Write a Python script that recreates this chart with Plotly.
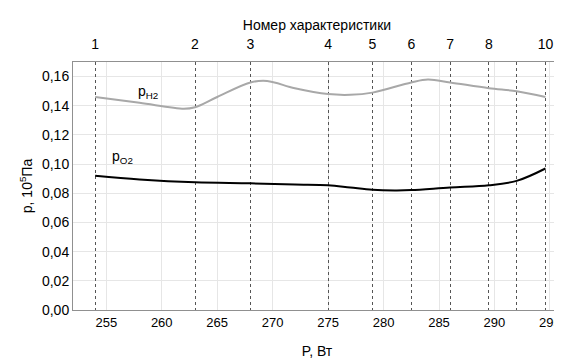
import plotly.graph_objects as go

# Characteristic numbers (top axis) and their power values
char_power = [254, 263, 268, 275, 279, 282.5, 286, 289.5, 292, 294.6]
char_labels = ["1", "2", "3", "4", "5", "6", "7", "8", "", "10"]

# Hydrogen partial pressure curve (P, W -> p, 1e5 Pa)
h2_power = [254, 258, 262, 263, 265, 268, 269.5, 272, 275, 277, 279, 282.5, 284, 286, 289.5, 292, 294.6]
h2_press = [0.146, 0.142, 0.138, 0.139, 0.146, 0.156, 0.157, 0.152, 0.148, 0.1475, 0.149, 0.156, 0.158, 0.156, 0.152, 0.150, 0.146]

# Oxygen partial pressure curve
o2_power = [254, 258, 263, 268, 272, 275, 277, 279, 281, 282.5, 286, 289.5, 292, 294.6]
o2_press = [0.092, 0.0895, 0.0875, 0.0868, 0.086, 0.0855, 0.084, 0.0825, 0.082, 0.0822, 0.084, 0.0855, 0.0885, 0.097]

x_ticks = [255, 260, 265, 270, 275, 280, 285, 290, 295]
y_ticks = [0.00, 0.02, 0.04, 0.06, 0.08, 0.10, 0.12, 0.14, 0.16]

FONT = "Liberation Sans"
FS = 14

fig = go.Figure()
fig.add_trace(go.Scatter(x=h2_power, y=h2_press, mode="lines", line=dict(color="#a8a8a8", width=2, shape="spline"), showlegend=False))
fig.add_trace(go.Scatter(x=o2_power, y=o2_press, mode="lines", line=dict(color="#000000", width=2, shape="spline"), showlegend=False))
# invisible trace to activate top axis
fig.add_trace(go.Scatter(x=[char_power[0]], y=[0], xaxis="x2", mode="markers", marker=dict(opacity=0), showlegend=False, hoverinfo="skip"))

fig.add_annotation(x=258.8, y=0.1495, text="p<sub>H2</sub>", showarrow=False, font=dict(family=FONT, size=FS, color="#000"))
fig.add_annotation(x=256.5, y=0.105, text="p<sub>O2</sub>", showarrow=False, font=dict(family=FONT, size=FS, color="#000"))

fig.update_layout(
    width=554, height=355,
    margin=dict(l=65, r=1, t=54, b=53, autoexpand=False),
    paper_bgcolor="white", plot_bgcolor="white",
    separators=", ",
    font=dict(family=FONT, size=FS, color="#000"),
    xaxis=dict(range=[252, 296], tickvals=x_ticks, showgrid=True, gridcolor="#e6e6e6", gridwidth=1,
               showline=True, linecolor="#909090", mirror=False, ticks="", zeroline=False, automargin=False,
               tickfont=dict(family=FONT, size=13), ticklabeloverflow="allow",
               title=dict(text="P, Вт", standoff=17, font=dict(family=FONT, size=FS))),
    xaxis2=dict(range=[252, 296], overlaying="x", side="top", tickvals=char_power, ticktext=char_labels,
                showgrid=True, gridcolor="#555555", griddash="dot", gridwidth=1,
                showline=True, linecolor="#909090", ticks="", zeroline=False, automargin=False,
                tickfont=dict(family=FONT, size=FS), ticklabelstandoff=6, ticklabeloverflow="allow",
                title=dict(text="Номер характеристики", standoff=2, font=dict(family=FONT, size=FS))),
    yaxis=dict(range=[0, 0.17], tickvals=y_ticks, tickformat=".2f", showgrid=True, gridcolor="#e6e6e6",
               showline=True, linecolor="#909090", mirror=True, ticks="", zeroline=False, automargin=False,
               tickfont=dict(family=FONT, size=FS),
               title=dict(text="p, 10<sup>5</sup>Па", standoff=6, font=dict(family=FONT, size=FS))),
)

fig.write_html("out.html")
